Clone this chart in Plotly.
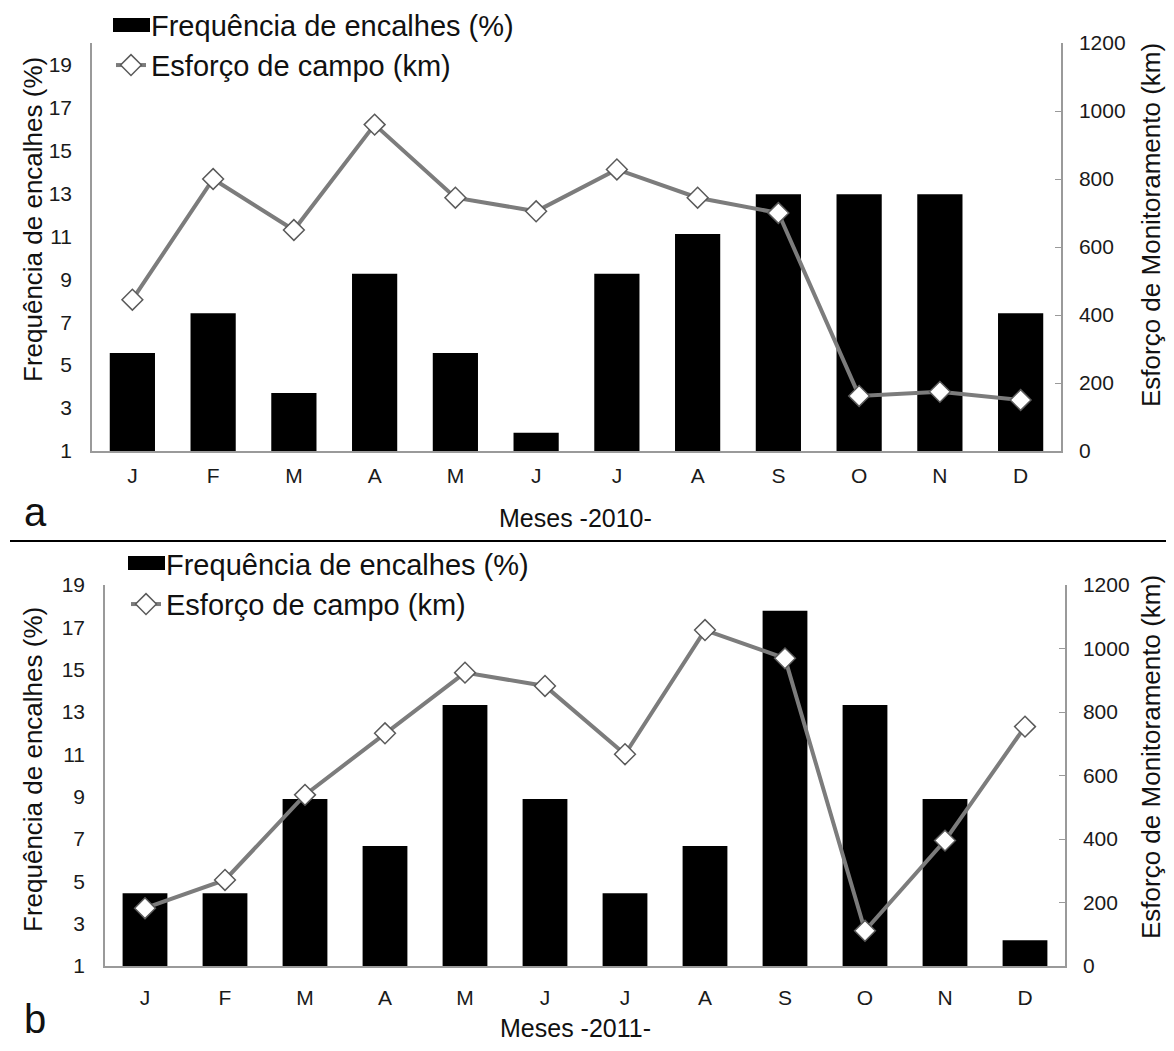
import plotly.graph_objects as go

# ---------------- data ----------------
months = ["J", "F", "M", "A", "M", "J", "J", "A", "S", "O", "N", "D"]

freq_2010 = [5.56, 7.41, 3.70, 9.26, 5.56, 1.85, 9.26, 11.11, 12.96, 12.96, 12.96, 7.41]
esforco_2010 = [445, 800, 650, 960, 745, 705, 828, 745, 700, 162, 174, 150]

freq_2011 = [4.44, 4.44, 8.89, 6.67, 13.33, 8.89, 4.44, 6.67, 17.78, 13.33, 8.89, 2.22]
esforco_2011 = [182, 271, 539, 733, 924, 882, 667, 1058, 969, 111, 395, 754]

left_ticks = [1, 3, 5, 7, 9, 11, 13, 15, 17, 19]
right_ticks = [0, 200, 400, 600, 800, 1000, 1200]

name_bar = "Frequência de encalhes (%)"
name_line = "Esforço de campo (km)"
ytitle_left = "Frequência de encalhes (%)"
ytitle_right = "Esforço de Monitoramento (km)"
xtitle_a = "Meses -2010-"
xtitle_b = "Meses -2011-"

# ---------------- geometry helpers ----------------
W, H = 1158, 1035
OFF = 8  # default body margin of the page


def px_x(x):
    return (x - OFF) / W


def px_y(y):
    return 1 - (y - OFF) / H


FONT = "Liberation Sans, Arial, sans-serif"
AXIS_GREY = "#9a9a9a"
LINE_GREY = "#7c7c7c"
TXT = "#111111"

xs = list(range(len(months)))

fig = go.Figure()

marker_style = dict(symbol="diamond", size=16, color="white",
                    line=dict(color="#5a5a5a", width=1.5))

# ----- panel a (2010) -----
fig.add_trace(go.Bar(
    x=xs, y=freq_2010, name=name_bar, marker=dict(color="black", line=dict(width=0)),
    width=0.56, xaxis="x", yaxis="y", legend="legend"))
fig.add_trace(go.Scatter(
    x=xs, y=esforco_2010, name=name_line, mode="lines+markers",
    line=dict(color=LINE_GREY, width=4), marker=marker_style,
    xaxis="x", yaxis="y2", legend="legend"))

# ----- panel b (2011) -----
fig.add_trace(go.Bar(
    x=xs, y=freq_2011, name=name_bar, marker=dict(color="black", line=dict(width=0)),
    width=0.56, xaxis="x2", yaxis="y3", legend="legend2"))
fig.add_trace(go.Scatter(
    x=xs, y=esforco_2011, name=name_line, mode="lines+markers",
    line=dict(color=LINE_GREY, width=4), marker=marker_style,
    xaxis="x2", yaxis="y4", legend="legend2"))

tickfont = dict(family=FONT, size=21, color="#1a1a1a")

xcommon = dict(range=[-0.5, 11.5], tickmode="array", tickvals=xs, ticktext=months,
               showline=True, linecolor=AXIS_GREY, linewidth=1.5, ticks="",
               showgrid=False, zeroline=False, tickfont=tickfont, fixedrange=True)
yleft = dict(tickmode="array", tickvals=left_ticks, showline=True, linecolor=AXIS_GREY,
             linewidth=1.5, ticks="", showgrid=False, zeroline=False, tickfont=tickfont,
             ticklabelstandoff=14)
yright = dict(tickmode="array", tickvals=right_ticks, range=[0, 1200], side="right",
              showline=True, linecolor=AXIS_GREY, linewidth=1.5, ticks="inside",
              ticklen=6, tickcolor=AXIS_GREY, showgrid=False, zeroline=False,
              tickfont=tickfont, ticklabelstandoff=12)

legend_font = dict(family=FONT, size=29, color=TXT)

fig.update_layout(
    width=W, height=H,
    margin=dict(l=0, r=0, t=0, b=0, autoexpand=False),
    paper_bgcolor="white", plot_bgcolor="white",
    font=dict(family=FONT, color=TXT),
    xaxis=dict(domain=[px_x(92), px_x(1061)], anchor="y", ticklabelstandoff=5, **xcommon),
    yaxis=dict(domain=[px_y(451), px_y(43)], range=[1, 20], anchor="x", **yleft),
    yaxis2=dict(overlaying="y", anchor="x", **yright),
    xaxis2=dict(domain=[px_x(105), px_x(1065)], anchor="y3", ticklabelstandoff=12, **xcommon),
    yaxis3=dict(domain=[px_y(966), px_y(585)], range=[1, 19], anchor="x2", **yleft),
    yaxis4=dict(overlaying="y3", anchor="x2", **yright),
    legend=dict(x=px_x(111), y=px_y(-1), xanchor="left", yanchor="top",
                bgcolor="rgba(0,0,0,0)", font=legend_font, tracegroupgap=0),
    legend2=dict(x=px_x(126), y=px_y(538), xanchor="left", yanchor="top",
                 bgcolor="rgba(0,0,0,0)", font=legend_font, tracegroupgap=0),
    showlegend=True,
)

title_font = dict(family=FONT, size=26, color=TXT)
xtitle_font = dict(family=FONT, size=25, color=TXT)
annotations = [
    dict(text=ytitle_left, x=px_x(33), y=px_y(220), textangle=-90, font=title_font),
    dict(text=ytitle_right, x=px_x(1151), y=px_y(225), textangle=-90, font=title_font),
    dict(text=xtitle_a, x=px_x(575), y=px_y(518), font=xtitle_font),
    dict(text=ytitle_left, x=px_x(33), y=px_y(770), textangle=-90, font=title_font),
    dict(text=ytitle_right, x=px_x(1151), y=px_y(757), textangle=-90, font=title_font),
    dict(text=xtitle_b, x=px_x(575), y=px_y(1028), font=xtitle_font),
]
for a in annotations:
    fig.add_annotation(xref="paper", yref="paper", showarrow=False,
                       xanchor="center", yanchor="middle", **a)

fig.add_annotation(text="a", xref="paper", yref="paper", x=px_x(22), y=px_y(512),
                   showarrow=False, font=dict(family=FONT, size=40, color=TXT))
fig.add_annotation(text="b", xref="paper", yref="paper", x=px_x(22), y=0,
                   yanchor="bottom", showarrow=False, font=dict(family=FONT, size=40, color=TXT))

# separator between the two panels
fig.add_shape(type="line", xref="paper", yref="paper",
              x0=px_x(10), x1=px_x(1174), y0=px_y(541), y1=px_y(541),
              line=dict(color="black", width=2))

# wide legend key for the bar series (Excel-style rectangle)
for (lx0, lx1, ly) in [(113, 150, 25), (128, 165, 563)]:
    fig.add_shape(type="rect", xref="paper", yref="paper",
                  x0=px_x(lx0), x1=px_x(lx1), y0=px_y(ly + 7), y1=px_y(ly - 7),
                  fillcolor="black", line=dict(width=0))

fig.write_html("out.html", config={"displayModeBar": False})
